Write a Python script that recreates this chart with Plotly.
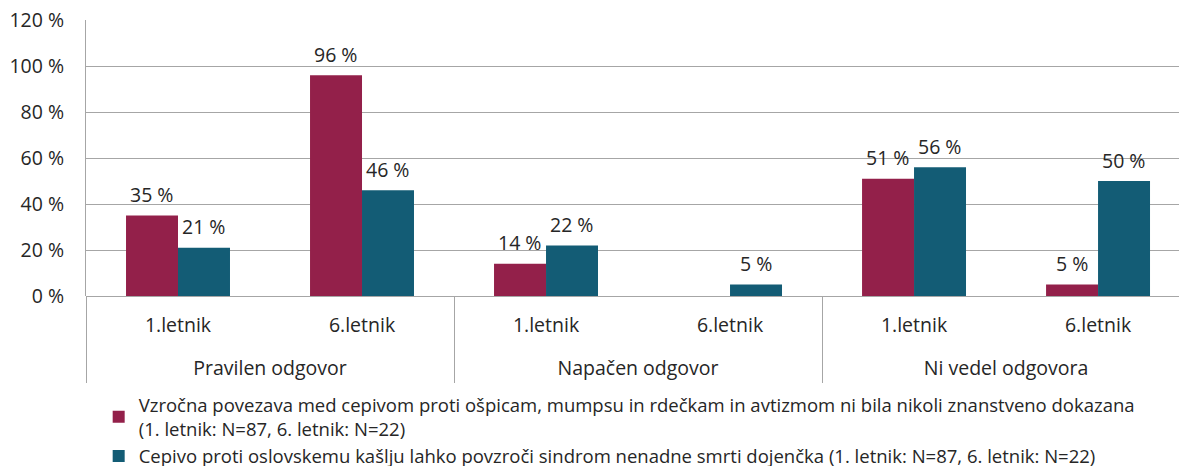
import plotly.graph_objects as go

# Answer categories (outer level) and study year (inner level)
group_names = ["Pravilen odgovor", "Napačen odgovor", "Ni vedel odgovora"]
years = ["1.letnik", "6.letnik", "1.letnik", "6.letnik", "1.letnik", "6.letnik"]

# Share of students (%) per statement
ospice_avtizem = [35, 96, 14, None, 51, 5]
oslovski_kasalj = [21, 46, 22, 5, 56, 50]

series_names = [
    "Vzročna povezava med cepivom proti ošpicam, mumpsu in rdečkam in avtizmom ni bila nikoli znanstveno dokazana<br>(1. letnik: N=87, 6. letnik: N=22)",
    "Cepivo proti oslovskemu kašlju lahko povzroči sindrom nenadne smrti dojenčka (1. letnik: N=87, 6. letnik: N=22)",
]
series_values = [ospice_avtizem, oslovski_kasalj]
series_colors = ["#93204A", "#135C75"]

y_ticks = [0, 20, 40, 60, 80, 100, 120]

FONT = "Open Sans"
FS = 19.5
FS_LEG = 18.5
TXT = "#262626"
BARGAP = 0.435
GRID = "#A6A6A6"

n_cat = len(years)
per_group = n_cat // len(group_names)
cat_pos = list(range(n_cat))
group_centers = [g * per_group + (per_group - 1) / 2 for g in range(len(group_names))]
group_bounds = [g * per_group - 0.5 for g in range(len(group_names) + 1)]

fig = go.Figure()
for name, vals, col in zip(series_names, series_values, series_colors):
    fig.add_trace(go.Bar(
        x=cat_pos, y=vals, name=name,
        marker=dict(color=col, line=dict(width=0)),
    ))

# Invisible anchors so the label/divider axes get drawn
for ax in ("x3", "x4"):
    fig.add_trace(go.Scatter(
        x=[0], y=[0], xaxis=ax, yaxis="y", mode="markers",
        marker=dict(opacity=0), showlegend=False, hoverinfo="skip",
    ))

# Value labels above each bar of the group
bar_w = (1 - BARGAP) / len(series_values)
annotations = []
for k, vals in enumerate(series_values):
    off = (k - (len(series_values) - 1) / 2) * bar_w
    for i, v in enumerate(vals):
        if v is None:
            continue
        annotations.append(dict(
            x=cat_pos[i] + off, y=v, xref="x", yref="y",
            text=f"{v} %", showarrow=False,
            yanchor="middle", yshift=21,
            font=dict(family=FONT, size=FS, color=TXT),
        ))

x_range = [-0.5, 5.44]

fig.update_layout(
    width=1179, height=466,
    margin=dict(l=86, r=0, t=20, b=170, autoexpand=False),
    paper_bgcolor="white", plot_bgcolor="white",
    barmode="group", bargap=BARGAP, bargroupgap=0,
    font=dict(family=FONT, size=FS, color=TXT),
    # inner level: study year
    xaxis=dict(
        range=x_range, tickvals=cat_pos, ticktext=years,
        showgrid=False, zeroline=False, showline=False, ticks="",
        ticklabelstandoff=15,
        tickfont=dict(family=FONT, size=FS, color=TXT),
    ),
    # outer level: answer category
    xaxis3=dict(
        range=x_range, overlaying="x", anchor="y", side="bottom",
        tickvals=group_centers, ticktext=group_names,
        showgrid=False, zeroline=False, showline=False, ticks="",
        ticklabelstandoff=58,
        tickfont=dict(family=FONT, size=FS, color=TXT),
    ),
    # group dividers below the axis
    xaxis4=dict(
        range=x_range, overlaying="x", anchor="y", side="bottom",
        tickvals=group_bounds, ticktext=[""] * len(group_bounds),
        showgrid=False, zeroline=False, showline=False,
        ticks="outside", ticklen=86, tickwidth=1, tickcolor=GRID,
    ),
    yaxis=dict(
        range=[0, 120], tickvals=y_ticks, ticktext=[f"{v} %" for v in y_ticks],
        showgrid=True, gridcolor=GRID, gridwidth=1,
        zeroline=True, zerolinecolor=GRID, zerolinewidth=1,
        showline=True, linecolor=GRID, linewidth=1,
        ticks="", ticklabelstandoff=17,
        tickfont=dict(family=FONT, size=FS, color=TXT),
    ),
    legend=dict(
        orientation="v", x=0.0116, xanchor="left", y=-0.327, yanchor="top",
        font=dict(family=FONT, size=FS_LEG, color=TXT),
        bgcolor="rgba(0,0,0,0)", tracegroupgap=0,
    ),
    annotations=annotations,
    showlegend=True,
)

fig.write_html("out.html")
